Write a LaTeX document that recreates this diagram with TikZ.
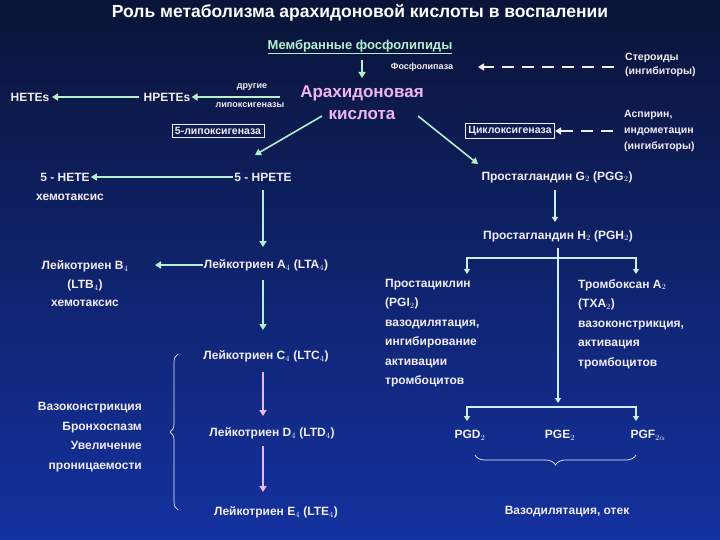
\documentclass[tikz,border=0pt]{standalone}
\usepackage{fontspec}
\setmainfont{Liberation Sans}
\usetikzlibrary{arrows.meta,decorations.pathreplacing}
\definecolor{bgtop}{HTML}{0A1438}
\definecolor{bgbot}{HTML}{1432A0}
\definecolor{txt}{HTML}{F2ECF4}
\definecolor{grn}{HTML}{B4F0CC}
\definecolor{pnk}{HTML}{F0B4F0}
\definecolor{ltblue}{HTML}{C8F0F0}
\begin{document}
\begin{tikzpicture}[x=1pt,y=-1pt,
  t/.style={text=txt,font=\bfseries\fontsize{12}{14}\selectfont,inner sep=1pt},
  ts/.style={text=txt,font=\bfseries\fontsize{9}{10}\selectfont,inner sep=1pt},
  tl/.style={t,align=left,font=\bfseries\fontsize{12}{19.5}\selectfont},
  arr/.style={draw=grn,line width=1.6pt,-{Triangle[width=7pt,length=6pt]}},
  parr/.style={draw=pnk,line width=1.6pt,-{Triangle[width=7pt,length=6pt]}},
  larr/.style={draw=ltblue,line width=1.2pt,-{Triangle[width=6pt,length=5pt]}},
  dsh/.style={draw=txt,line width=1.4pt,dash pattern=on 12pt off 8pt,-{Triangle[width=7pt,length=6pt]}},
  boxed/.style={t,draw=txt,line width=0.8pt,inner sep=3pt,font=\bfseries\fontsize{10.5}{12}\selectfont}]
\shade[top color=bgtop,bottom color=bgbot] (0,0) rectangle (720,540);
\useasboundingbox (0,0) rectangle (720,540);
\node[t,text=white,font=\bfseries\fontsize{17.5}{20}\selectfont] (title) at (360,13) {Роль метаболизма арахидоновой кислоты в воспалении};
\node[t,text=grn,font=\bfseries\fontsize{13}{15}\selectfont] (mem) at (360,47) {\underline{Мембранные фосфолипиды}};
\node[ts] (fl) at (422,67) {Фосфолипаза};
\node[t,align=left,anchor=west,font=\bfseries\fontsize{10.5}{14}\selectfont] (ster) at (624,65) {Стероиды\\(ингибиторы)};
\node[t,text=pnk,align=center,font=\bfseries\fontsize{17}{22}\selectfont] (aa) at (362,103) {Арахидоновая\\кислота};
\node[t] (hetes) at (30,97) {HETEs};
\node[t] (hpetes) at (167,97) {HPETEs};
\node[ts] (dr) at (252,87) {другие};
\node[ts] (lip) at (250,105) {липоксигеназы};
\node[boxed] (l5) at (218,131) {5-липоксигеназа};
\node[boxed] (cox) at (510,131) {Циклоксигеназа};
\node[t,align=left,anchor=west,font=\bfseries\fontsize{10.5}{16}\selectfont] (asp) at (623,131) {Аспирин,\\индометацин\\(ингибиторы)};
\node[t] (hete5) at (65,177) {5 - HETE};
\node[t] (hem1) at (70,197) {хемотаксис};
\node[t] (hpete5) at (263,177) {5 - HPETE};
\node[t] (pgg) at (557,177) {Простагландин G$_2$ (PGG$_2$)};
\node[t] (pgh) at (558,236) {Простагландин H$_2$ (PGH$_2$)};
\node[t,align=center,font=\bfseries\fontsize{12}{18.5}\selectfont] (ltb) at (85,284) {Лейкотриен B$_4$\\(LTB$_4$)\\хемотаксис};
\node[t] (lta) at (266,265) {Лейкотриен A$_4$ (LTA$_4$)};
\node[t] (ltc) at (266,356) {Лейкотриен C$_4$ (LTC$_4$)};
\node[t] (ltd) at (272,433) {Лейкотриен D$_4$ (LTD$_4$)};
\node[t] (lte) at (276,512) {Лейкотриен E$_4$ (LTE$_4$)};
\node[t,align=right,anchor=east,font=\bfseries\fontsize{12}{19.5}\selectfont] (vaso) at (143,437) {Вазоконстрикция\\Бронхоспазм\\Увеличение\\проницаемости};
\node[tl,anchor=north west] (pgi) at (384,278) {Простациклин\\(PGI$_2$)\\вазодилятация,\\ингибирование\\активации\\тромбоцитов};
\node[tl,anchor=north west] (txa) at (577,278) {Тромбоксан A$_2$\\(TXA$_2$)\\вазоконстрикция,\\активация\\тромбоцитов};
\node[t] (pgd) at (470,435) {PGD$_2$};
\node[t] (pge) at (560,435) {PGE$_2$};
\node[t] (pgf) at (648,435) {PGF$_{2\alpha}$};
\node[t] (vd) at (567,512) {Вазодилятация, отек};
% arrows
\draw[arr] (362,60) -- (362,78);
\draw[dsh] (ster.west |- fl) ++(-10,0) -- (478,67);
\draw[dsh] (asp.west) ++(-10,0) -- (cox.east);
\draw[arr] (hpetes.west) ++(-3,0) -- (52,97);
\draw[arr] (280,97) -- (hpetes.east);
\draw[arr] (322,116) -- (255,155);
\draw[arr] (418,116) -- (478,164);
\draw[arr] (hpete5.west) -- (hete5.east);
\draw[arr] (263,190) -- (263,247);
\draw[larr] (555,190) -- (555,222);
\draw[arr] (lta.west) -- (155,265);
\draw[arr] (263,280) -- (263,330);
\draw[parr] (263,372) -- (263,416);
\draw[parr] (263,446) -- (263,492);
% PGH2 branches
\draw[larr] (558,248) -- (558,403);
\draw[line width=1.2pt,draw=ltblue] (467,258) -- (636,258);
\draw[larr] (467,257.4) -- (467,274);
\draw[larr] (636,257.4) -- (636,274);
\draw[line width=1.2pt,draw=ltblue] (467,407) -- (636,407);
\draw[larr] (467,406.4) -- (467,421);
\draw[larr] (636,406.4) -- (636,421);
% braces
\draw[draw=txt,line width=0.7pt,decorate,decoration={brace,amplitude=8pt}] (178,510) -- (178,354);
\draw[draw=txt,line width=0.7pt,decorate,decoration={brace,amplitude=10pt}] (636,455) -- (475,455);
\end{tikzpicture}
\end{document}
